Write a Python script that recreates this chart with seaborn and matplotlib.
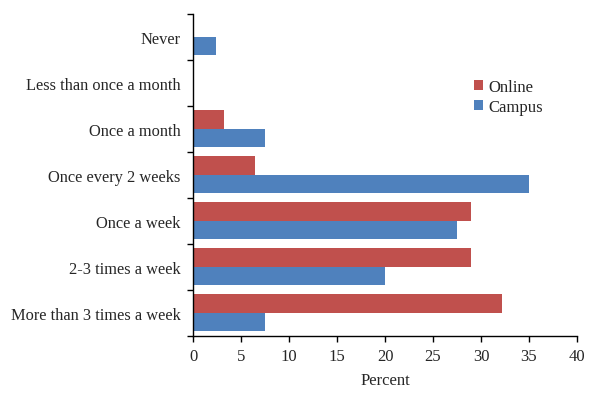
import numpy as np
import pandas as pd
import matplotlib
matplotlib.use("Agg")
import matplotlib.pyplot as plt
import seaborn as sns

categories = ["Never", "Less than once a month", "Once a month", "Once every 2 weeks",
              "Once a week", "2-3 times a week", "More than 3 times a week"]
online = [0, 0, 3.2, 6.4, 29.0, 29.0, 32.2]
campus = [2.4, 0, 7.5, 35.0, 27.5, 20.0, 7.5]
series = ["Online", "Campus"]
colors = ["#C0504D", "#4F81BD"]
xticks = [0, 5, 10, 15, 20, 25, 30, 35, 40]

df = pd.DataFrame({
    "Category": categories * 2,
    "Percent": online + campus,
    "Group": ["Online"] * len(categories) + ["Campus"] * len(categories),
})

sns.set_style("white")
plt.rcParams["font.family"] = ["Liberation Serif", "DejaVu Serif"]

fig = plt.figure(figsize=(6, 4.06), dpi=100)
ax = fig.add_axes([0.322, 0.171, 0.6395, 0.792])

sns.barplot(data=df, y="Category", x="Percent", hue="Group", hue_order=series,
            order=categories, palette=colors, orient="h", width=0.8,
            saturation=1, linewidth=0, ax=ax)

ax.set_xlim(0, 40)
ax.set_xticks(xticks)
ax.set_xlabel("Percent", fontsize=12, labelpad=6)
ax.set_ylabel("")
ax.tick_params(axis="x", labelsize=12, direction="out", length=4, width=1,
               color="black", bottom=True, pad=5)
ax.tick_params(axis="y", which="major", labelsize=11.8, length=0, pad=9)
ax.set_yticks(np.arange(len(categories) + 1) - 0.5, minor=True)
ax.tick_params(axis="y", which="minor", direction="out", length=4, width=1, color="black", left=True)
ax.set_ylim(len(categories) - 0.5, -0.5)

for s in ["top", "right"]:
    ax.spines[s].set_visible(False)
for s in ["left", "bottom"]:
    ax.spines[s].set_color("black")
    ax.spines[s].set_linewidth(1)

ax.legend(title=None, frameon=False, fontsize=12, loc="upper left",
          bbox_to_anchor=(0.715, 0.82), handlelength=0.55, handleheight=0.55,
          handletextpad=0.3, labelspacing=0.25, borderaxespad=0)

fig.savefig("out.png", dpi=100)
